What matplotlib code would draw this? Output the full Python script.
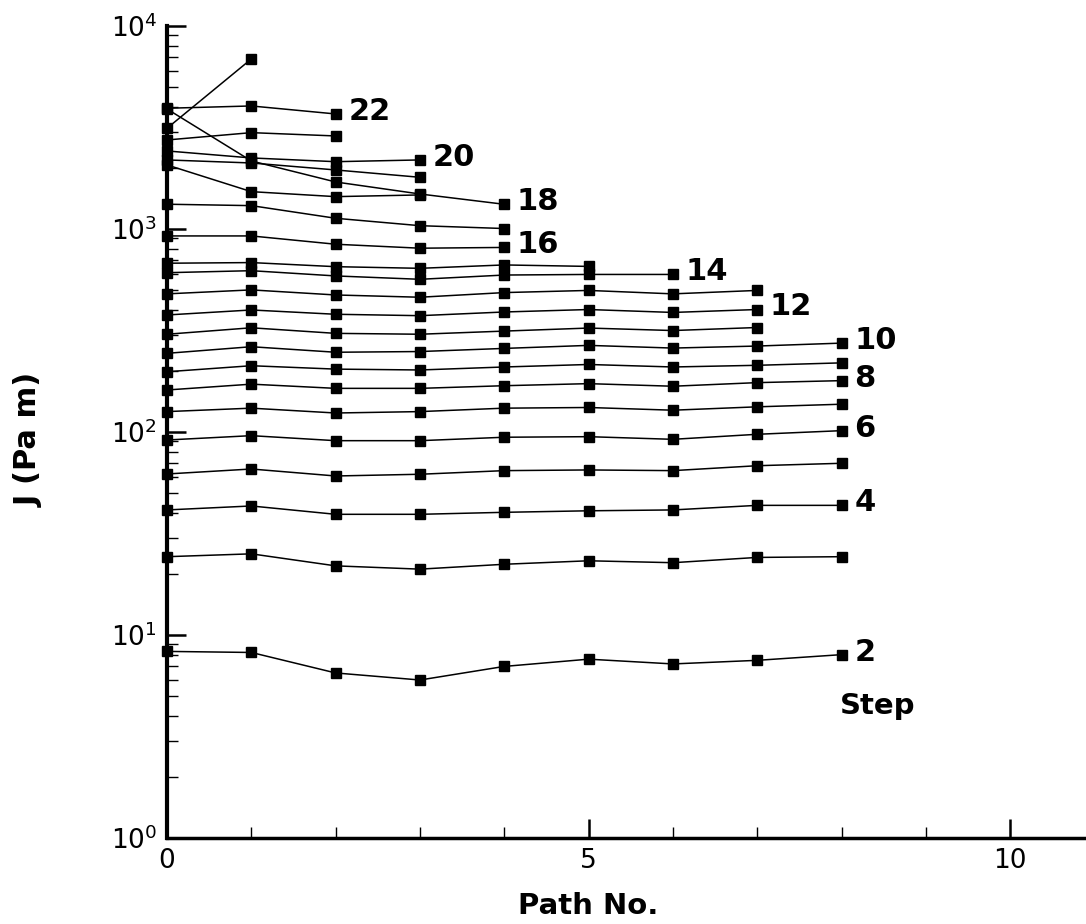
import numpy as np
import matplotlib.pyplot as plt
from matplotlib.ticker import MultipleLocator, LogLocator, NullFormatter

plt.rcParams['font.family'] = ['DejaVu Sans']
plt.rcParams['mathtext.default'] = 'regular'

# J integral along each path, one list per load step (index = path number)
j_step2 = [8.3, 8.2, 6.5, 6.0, 7.0, 7.6, 7.2, 7.5, 8.0]
j_step3 = [24.3, 25.1, 21.9, 21.1, 22.3, 23.2, 22.7, 24.1, 24.3]
j_step4 = [41.3, 43.2, 39.3, 39.3, 40.2, 40.9, 41.3, 43.5, 43.5]
j_step5 = [62.1, 65.7, 60.7, 61.9, 64.5, 65.0, 64.5, 68.2, 70.1]
j_step6 = [91.3, 95.9, 90.6, 90.6, 94.2, 94.8, 92.0, 97.4, 101.5]
j_step7 = [126, 131, 124, 126, 131, 132, 128, 133, 137]
j_step8 = [161, 172, 164, 164, 169, 173, 168, 175, 179]
j_step9 = [198, 212, 204, 202, 209, 215, 209, 213, 219]
j_step10 = [244, 263, 247, 249, 258, 267, 259, 265, 274]
j_step11 = [303, 326, 306, 303, 314, 325, 316, 327]
j_step12 = [377, 399, 380, 374, 390, 401, 388, 401]
j_step13 = [479, 501, 473, 461, 486, 498, 479, 498]
j_step14 = [609, 623, 587, 565, 593, 597, 597]
j_step15 = [678, 683, 652, 640, 665, 654]
j_step16 = [924, 924, 841, 804, 811]
j_step17 = [1324, 1303, 1129, 1038, 1005]
j_step18 = [3900, 2163, 1704, 1487, 1323]
j_step19 = [2067, 1527, 1443, 1471]
j_step19b = [2188, 2114, 1953, 1797]
j_step20 = [2423, 2238, 2145, 2188]
j_step21 = [2744, 2982, 2872]
j_step22 = [3932, 4036, 3686]
j_step23 = [3134, 6878]

curves = [j_step2, j_step3, j_step4, j_step5, j_step6, j_step7, j_step8,
          j_step9, j_step10, j_step11, j_step12, j_step13, j_step14,
          j_step15, j_step16, j_step17, j_step18, j_step19, j_step19b,
          j_step20, j_step21, j_step22, j_step23]

step_labels = [("2", j_step2), ("4", j_step4), ("6", j_step6), ("8", j_step8),
               ("10", j_step10), ("12", j_step12), ("14", j_step14),
               ("16", j_step16), ("18", j_step18), ("20", j_step20),
               ("22", j_step22)]

fig = plt.figure(figsize=(10.86, 9.24), dpi=100)
ax = fig.add_axes([0.1538, 0.0931, 0.8462, 0.8788])

for j in curves:
    ax.plot(range(len(j)), j, color='black', lw=1.1, marker='s', ms=6.5,
            mfc='black', mec='black', clip_on=False)

for text, j in step_labels:
    ax.text(len(j) - 1 + 0.15, j[-1] * 1.03, text, fontsize=22, fontweight='bold',
            ha='left', va='center')

ax.text(8.43, 4.45, 'Step', fontsize=21, fontweight='bold', ha='center', va='center')

ax.set_yscale('log')
ax.set_ylim(1, 1e4)
ax.set_xlim(0, 10.9)

ax.xaxis.set_major_locator(MultipleLocator(5))
ax.xaxis.set_minor_locator(MultipleLocator(1))
ax.yaxis.set_major_locator(LogLocator(base=10))
ax.yaxis.set_minor_locator(LogLocator(base=10, subs=np.arange(2, 10)))
ax.yaxis.set_minor_formatter(NullFormatter())

ax.tick_params(which='major', direction='in', length=14, width=1.8,
               labelsize=19, pad=7)
ax.tick_params(which='minor', direction='in', length=8, width=1.0)

ax.spines[['top', 'right']].set_visible(False)
ax.spines['left'].set_linewidth(3.0)
ax.spines['bottom'].set_linewidth(2.5)

ax.set_ylabel('J (Pa m)', fontsize=22, fontweight='bold')
ax.yaxis.set_label_coords(-0.134, 0.49)
ax.set_xlabel('Path No.', fontsize=21, fontweight='bold')
ax.xaxis.set_label_coords(5 / 10.9, -0.066)

fig.savefig('out.png', dpi=100)
